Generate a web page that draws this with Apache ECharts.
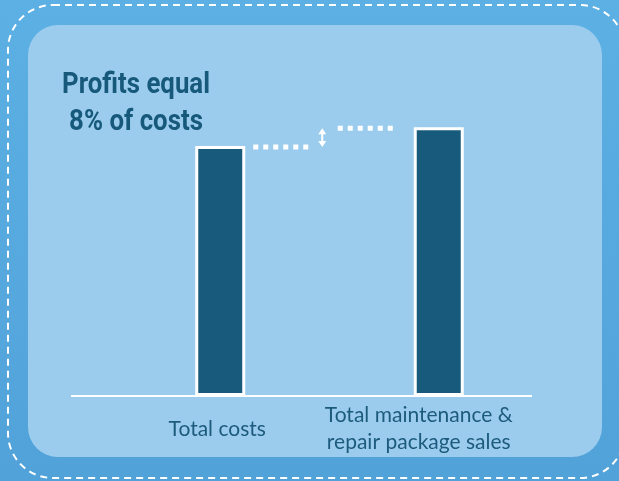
<!DOCTYPE html>
<html>
<head>
<meta charset="utf-8">
<script src="https://cdn.jsdelivr.net/npm/echarts@6/dist/echarts.min.js"></script>
<style>
  html, body { margin: 0; padding: 0; }
  #chart { width: 619px; height: 481px; }
</style>
</head>
<body>
<div id="chart"></div>
<script>
// chart data
var categories = ['Total costs', 'Total maintenance &\nrepair package sales'];
var values = [100, 107.5];
var titleLines = ['Profits equal', '8% of costs'];

var myChart = echarts.init(document.getElementById('chart'));

var options = {
  backgroundColor: '#56a8de',
  animation: false,
  grid: { left: 111, right: 71, top: 21, bottom: 85 },
  xAxis: {
    type: 'category',
    data: categories,
    axisLine: { show: false },
    axisTick: { show: false },
    axisLabel: {
      interval: 0,
      margin: 33,
      verticalAlign: 'middle',
      formatter: function (val, idx) {
        var tag = idx === 0 ? 'a' : 'b';
        return val.split('\n').map(function (s) { return '{' + tag + '|' + s + '}'; }).join('\n');
      },
      rich: {
        a: { fontFamily: 'Lato', fontSize: 21, color: '#1d5b7d', lineHeight: 27, padding: [0, 6, 0, 0] },
        b: { fontFamily: 'Lato', fontSize: 21, color: '#1d5b7d', lineHeight: 27, padding: [0, 40, 0, 0] }
      }
    }
  },
  yAxis: {
    type: 'value',
    min: 0,
    max: 150,
    show: false
  },
  series: [{
    type: 'bar',
    data: values,
    barWidth: 50,
    z: 5,
    itemStyle: {
      color: '#175a7b',
      borderColor: '#ffffff',
      borderWidth: 3
    }
  }]
};

myChart.setOption(options);

// annotations tied to the bar tops
var p1 = myChart.convertToPixel({ seriesIndex: 0 }, [0, values[0]]);
var p2 = myChart.convertToPixel({ seriesIndex: 0 }, [1, values[1]]);
var y1 = p1[1] + 1, y2 = p2[1] + 1;
var base = myChart.convertToPixel({ seriesIndex: 0 }, [0, 0])[1];
var ax = p1[0] + 102;

var dotted = { stroke: '#ffffff', lineWidth: 5, lineDash: [5, 5] };

myChart.setOption({
  graphic: [
    { type: 'rect', z: -20, silent: true,
      shape: { x: 0, y: 0, width: 619, height: 481 },
      style: { fill: new echarts.graphic.LinearGradient(0, 0, 0, 1, [
        { offset: 0, color: '#5cb0e3' }, { offset: 1, color: '#51a2d9' }]) } },
    { type: 'rect', z: -19, silent: true,
      shape: { x: 8, y: 5, width: 617, height: 473, r: 45 },
      style: { fill: null, stroke: '#ffffff', lineWidth: 2, lineDash: [7, 5] } },
    { type: 'rect', z: -18, silent: true,
      shape: { x: 28, y: 25, width: 574, height: 432, r: 30 },
      style: { fill: '#9bccee' } },
    { type: 'line', z: 3, silent: true,
      shape: { x1: 71, y1: base, x2: 532, y2: base },
      style: { stroke: '#ffffff', lineWidth: 2 } },
    { type: 'line', z: 3, silent: true,
      shape: { x1: p1[0] + 33, y1: y1, x2: p1[0] + 88, y2: y1 },
      style: dotted },
    { type: 'line', z: 3, silent: true,
      shape: { x1: p2[0] - 101, y1: y2, x2: p2[0] - 45, y2: y2 },
      style: dotted },
    { type: 'polygon', z: 3, silent: true,
      shape: { points: [
        [ax, y2], [ax + 4, y2 + 6], [ax + 1, y2 + 6], [ax + 1, y1 - 6], [ax + 4, y1 - 6],
        [ax, y1], [ax - 4, y1 - 6], [ax - 1, y1 - 6], [ax - 1, y2 + 6], [ax - 4, y2 + 6]
      ] },
      style: { fill: '#ffffff' } },
    { type: 'text', z: 10, silent: true,
      x: 136, y: 104, scaleX: 0.89,
      style: {
        text: titleLines.join('\n'),
        fontFamily: 'Roboto',
        fontWeight: 'bold',
        fontSize: 29,
        fill: '#17597b',
        align: 'center',
        verticalAlign: 'middle',
        lineHeight: 37
      } }
  ]
});

window.onresize = function () {
  myChart.resize();
};
</script>
</body>
</html>
